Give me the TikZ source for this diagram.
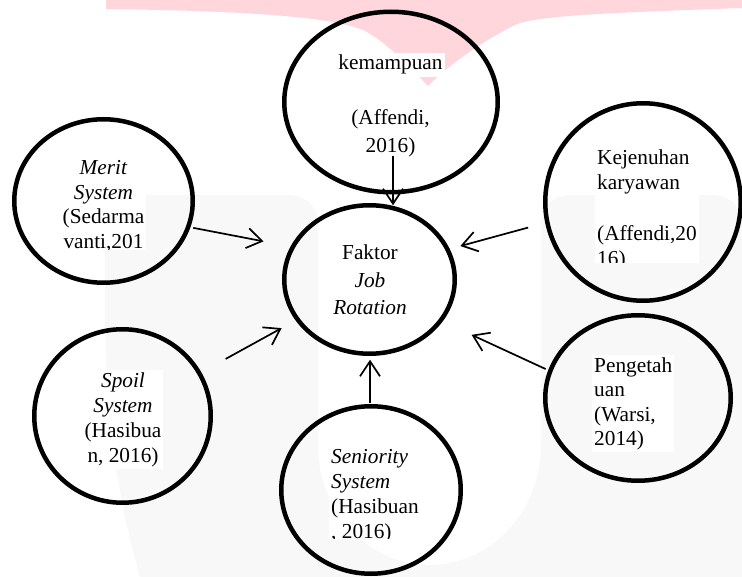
\documentclass[tikz,border=0pt]{standalone}
\usepackage{fontspec}
\setmainfont{Liberation Serif}
\usetikzlibrary{shapes.geometric,arrows.meta}
\definecolor{markpink}{RGB}{255,214,219}
\definecolor{markgrey}{RGB}{248,248,249}
\begin{document}
\begin{tikzpicture}[x=1pt,y=-1pt,
  ell/.style={ellipse,draw,line width=4.5pt,inner sep=0pt,outer sep=0pt},
  lbl/.style={fill=white,inner sep=2pt,font=\fontsize{21.3}{25}\selectfont},
  lblwide/.style={fill=white,inner sep=2pt,font=\fontsize{21.3}{27.5}\selectfont},
  arr/.style={line width=1.7pt,-{Straight Barb[length=15pt,width=20pt]}}]
\useasboundingbox (0,0) rectangle (742,577);

% background marks: pink banner with a wedge, pale grey U
\fill[markpink] (106,0) -- (742,0) -- (742,8)
  .. controls (600,13) and (535,16) .. (515,25)
  .. controls (485,40) and (452,62) .. (428,86)
  .. controls (405,62) and (388,44) .. (365,31)
  .. controls (335,17) and (250,11) .. (106,9) -- cycle;
\fill[markgrey] (140,577) .. controls (112,480) and (105,390) .. (105,300)
  [rounded corners=28pt] -- (105,195) -- (318,195) [sharp corners] -- (318,445)
  arc[start angle=180,end angle=360,x radius=111.5pt,y radius=120pt]
  [rounded corners=28pt] -- (541,195) -- (742,195) [sharp corners] -- (742,577) -- cycle;

% ellipses
\node[ell,minimum width=213.5pt,minimum height=180.5pt] (kem) at (391,102) {};
\node[ell,minimum width=170.5pt,minimum height=148.5pt] (faktor) at (369.5,279.5) {};
\node[ell,minimum width=178.5pt,minimum height=163.5pt] (merit) at (103.5,201) {};
\node[ell,minimum width=195.5pt,minimum height=197.5pt] (kejenuhan) at (643,202) {};
\node[ell,minimum width=176.5pt,minimum height=173.5pt] (spoil) at (122.5,416) {};
\node[ell,minimum width=179.5pt,minimum height=167.5pt] (seniority) at (371,490) {};
\node[ell,minimum width=185.5pt,minimum height=165.5pt] (pengetahuan) at (638,398) {};

% texts (base anchor = baseline of the last line)
\node[lbl,anchor=base] (kemtext) at (390.5,70) {kemampuan};
\node[lblwide,align=center,anchor=base] (kemcite) at (390.5,152.5) {(Affendi,\\2016)};
\node[lblwide,align=center,anchor=base] (faktortext) at (370,315)
  {Faktor\\\textit{Job}\\\textit{Rotation}};
\begin{scope}
  \clip (0,100) rectangle (300,249.5);
  \node[lbl,font=\fontsize{21.3}{24.5}\selectfont,align=center,anchor=base] (merittext)
    at (103.5,248.5) {\textit{Merit}\\\textit{System}\\(Sedarma\\vanti,201};
\end{scope}
\begin{scope}
  \clip (540,100) rectangle (742,263);
  \node[lbl,font=\fontsize{21.3}{24.5}\selectfont,align=left,anchor=base west] (kejtext)
    at (595,265.5) {Kejenuhan\\karyawan\\[27pt](Affendi,20\\16)};
\end{scope}
\node[lbl,align=center,anchor=base] (spoiltext) at (123,462)
  {\textit{Spoil}\\\textit{System}\\(Hasibua\\n, 2016)};
\begin{scope}
  \clip (280,400) rectangle (470,538.5);
  \node[lbl,align=left,anchor=base west] (sentext) at (329,538)
    {\textit{Seniority}\\\textit{System}\\(Hasibuan\\, 2016)};
\end{scope}
\node[lbl,font=\fontsize{21.3}{24.5}\selectfont,align=left,anchor=base west] (pengtext)
  at (592,445.5) {Pengetah\\uan\\(Warsi,\\2014)};

% connectors into the central factor
\draw[arr,shorten <=5.2pt,shorten >=29.8pt] (merit.-17.77) -- (faktor.157.45);
\draw[arr,shorten <=19.9pt,shorten >=13.3pt] (kejenuhan.192.49) -- (faktor.21.97);
\draw[arr,shorten <=30pt,shorten >=18.2pt] (spoil.29.06) -- (faktor.209.77);
\draw[arr,shorten <=5.1pt,shorten >=34.2pt] (pengetahuan.163.67) -- (faktor.-30.94);
\draw[arr] ([xshift=2pt,yshift=36.5pt]kem.south) -- ([xshift=23.5pt]faktor.north);
\draw[arr] ([xshift=-1pt,yshift=3pt]seniority.north) -- ([xshift=0.5pt,yshift=-6pt]faktor.south);
\end{tikzpicture}
\end{document}
